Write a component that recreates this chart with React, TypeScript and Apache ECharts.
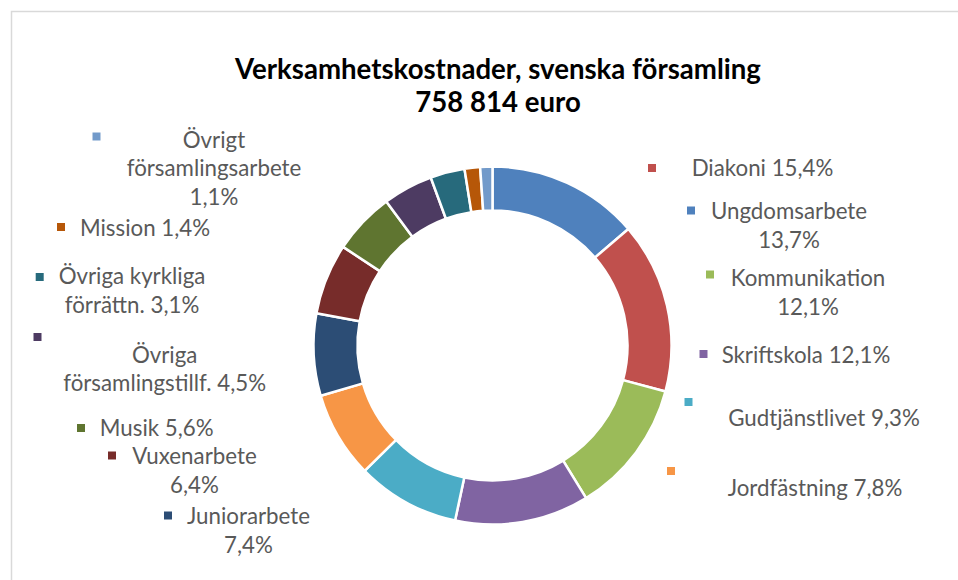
import React, { useEffect, useRef } from 'react';
import * as echarts from 'echarts';

// ---- data ----
const categories = [
  'Ungdomsarbete',
  'Diakoni',
  'Kommunikation',
  'Skriftskola',
  'Gudtjänstlivet',
  'Jordfästning',
  'Juniorarbete',
  'Vuxenarbete',
  'Musik',
  'Övriga församlingstillf.',
  'Övriga kyrkliga förrättn.',
  'Mission',
  'Övrigt församlingsarbete',
];
const shares = [13.7, 15.4, 12.1, 12.1, 9.3, 7.8, 7.4, 6.4, 5.6, 4.5, 3.1, 1.4, 1.1];
const titleLines = ['Verksamhetskostnader, svenska församling', '758 814 euro'];

// ---- style / layout ----
const colors = [
  '#4F81BD', '#C0504D', '#9BBB59', '#8064A2', '#4BACC6', '#F79646',
  '#2C4D75', '#772C2A', '#5F7530', '#4D3B62', '#276A7C', '#B65708', '#729ACA',
];
const wordsPerLine = [[1, 1], [2], [1, 1], [2], [2], [2], [1, 1], [1, 1], [2], [1, 2], [2, 2], [2], [1, 1, 1]];
const labelCenterX = [789, 762.5, 808, 806, 824, 815, 248.5, 194.5, 156.7, 164.6, 132, 145, 214];
const labelBaseline = [218.3, 175, 285, 361.7, 425, 495, 523.3, 463.3, 435, 361.7, 283.3, 235, 146.7];
const keyLeft = [687, 648, 706, 699.5, 684.5, 667, 164, 108, 77, 33.5, 35.7, 57, 92.5];
const keyTop = [206.5, 164, 270.5, 350, 398, 467, 511.5, 451.5, 424, 333, 273, 223, 132.5];

const FONT = 'Lato';
const FS = 22.3;
const LH = 28.5;
const BASE_OFF = 7.5;

function labelText(i: number): string {
  const pct = shares[i].toFixed(1).replace('.', ',') + '%';
  const words = (categories[i] + ' ' + pct).split(' ');
  const lines: string[] = [];
  let k = 0;
  for (const n of wordsPerLine[i]) {
    lines.push(words.slice(k, k + n).join(' '));
    k += n;
  }
  return lines.join('\n');
}

export default function App() {
  const ref = useRef<HTMLDivElement>(null);
  useEffect(() => {
    if (!ref.current) return;
    const chart = echarts.init(ref.current, undefined, { renderer: 'svg' });
    chart.setOption({
      animation: false,
      color: colors,
      title: {
        text: titleLines.join('\n'),
        left: 498,
        top: 52,
        textAlign: 'center',
        padding: 0,
        textStyle: { fontFamily: FONT, fontSize: 27.6, fontWeight: 'bold', color: '#000', lineHeight: 33 },
      },
      legend: categories.map((name, i) => ({
        data: [name],
        left: keyLeft[i],
        top: keyTop[i],
        icon: 'rect',
        itemWidth: 8,
        itemHeight: 8,
        itemGap: 0,
        padding: 0,
        selectedMode: false,
        formatter: () => '',
        itemStyle: { borderWidth: 0 },
        textStyle: { fontSize: 1 },
      })),
      graphic: [
        {
          type: 'rect',
          silent: true,
          shape: { x: 11.5, y: 11.5, width: 2000, height: 2000 },
          style: { fill: 'none', stroke: '#d9d9d9', lineWidth: 1.5 },
        },
      ],
      series: [
        {
          type: 'pie',
          center: [492.5, 345.5],
          radius: [135, 179],
          startAngle: 90,
          clockwise: true,
          avoidLabelOverlap: false,
          itemStyle: { borderColor: '#fff', borderWidth: 2.5 },
          emphasis: { disabled: true },
          label: {
            show: true,
            position: 'outside',
            formatter: (p: any) => labelText(p.dataIndex),
            color: '#595959',
            fontFamily: FONT,
            fontSize: FS,
            lineHeight: LH,
          },
          labelLine: { show: false },
          labelLayout: (p: any) => {
            const i = p.dataIndex;
            const n = wordsPerLine[i].length;
            return {
              x: labelCenterX[i],
              y: labelBaseline[i] - BASE_OFF + ((n - 1) * LH) / 2,
              align: 'center',
              verticalAlign: 'middle',
            };
          },
          data: categories.map((name, i) => ({ name, value: shares[i] })),
        },
      ],
    });
    return () => chart.dispose();
  }, []);
  return (
    <div
      ref={ref}
      style={{ position: 'absolute', left: 0, top: 0, width: 958, height: 580, background: '#fff' }}
    />
  );
}
